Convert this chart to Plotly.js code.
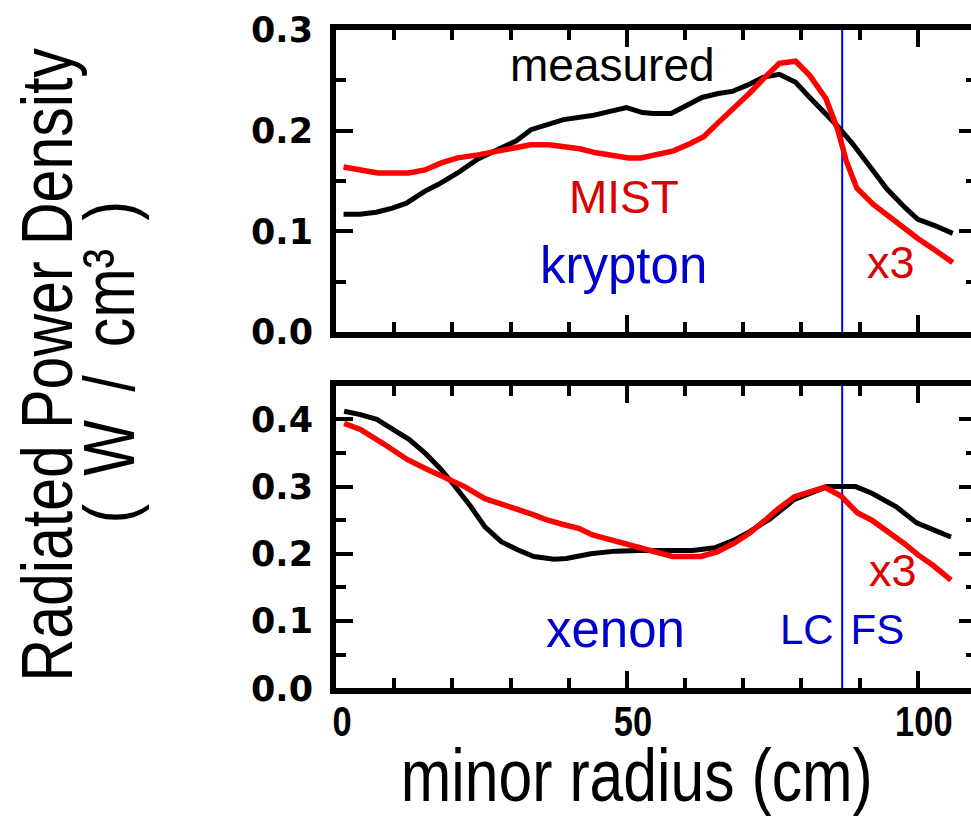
<!DOCTYPE html>
<html>
<head>
<meta charset="utf-8">
<script src="https://cdn.plot.ly/plotly-3.0.1.min.js"></script>
<style>
html, body { margin: 0; padding: 0; overflow: hidden; background: #fff; }
#chart { width: 980px; height: 816px; }
</style>
</head>
<body>
<div id="chart"></div>
<script>
// ---- data ----
// krypton panel
const krMeasX = [1.3, 4.1, 6.9, 9.7, 12.1, 15.3, 17.7, 20.9, 24.4, 27.9, 31.0, 33.5, 36.6, 39.1, 44.0, 47.5, 49.9, 52.7, 54.5, 57.6, 60.1, 62.9, 65.7, 68.1, 70.6, 73.4, 76.2, 79.0, 81.1, 83.5, 86.3, 88.8, 91.9, 94.7, 97.9, 100.0, 102.8, 106.0];
const krMeasY = [0.117, 0.117, 0.119, 0.123, 0.128, 0.140, 0.147, 0.158, 0.172, 0.182, 0.190, 0.201, 0.207, 0.211, 0.215, 0.220, 0.223, 0.218, 0.217, 0.217, 0.224, 0.233, 0.237, 0.239, 0.245, 0.253, 0.256, 0.248, 0.235, 0.221, 0.204, 0.187, 0.163, 0.142, 0.123, 0.112, 0.106, 0.098];
const krMistX = [1.3, 4.1, 7.2, 12.5, 15.3, 18.1, 20.9, 24.4, 27.9, 30.7, 33.5, 36.6, 39.1, 41.9, 44.7, 47.5, 50.3, 52.4, 55.2, 58.0, 60.8, 63.2, 65.7, 68.5, 71.2, 73.7, 76.2, 79.0, 81.4, 84.2, 86.3, 87.7, 89.5, 92.3, 96.5, 100.0, 102.8, 106.0];
const krMistY = [0.164, 0.161, 0.158, 0.158, 0.161, 0.168, 0.173, 0.176, 0.180, 0.183, 0.186, 0.186, 0.184, 0.182, 0.178, 0.176, 0.173, 0.173, 0.176, 0.180, 0.187, 0.194, 0.208, 0.223, 0.238, 0.253, 0.267, 0.269, 0.255, 0.232, 0.200, 0.170, 0.143, 0.127, 0.108, 0.093, 0.082, 0.069];
// xenon panel
const xeMeasX = [1.4, 4.2, 7.0, 9.8, 12.6, 15.4, 17.9, 20.3, 23.1, 25.6, 28.4, 31.2, 34.0, 37.5, 39.6, 43.8, 48.0, 52.2, 57.8, 61.3, 65.1, 68.3, 71.1, 74.6, 78.8, 81.6, 84.4, 89.3, 92.1, 96.3, 99.8, 102.6, 105.7];
const xeMeasY = [0.412, 0.407, 0.400, 0.386, 0.370, 0.349, 0.327, 0.302, 0.271, 0.240, 0.218, 0.206, 0.196, 0.192, 0.193, 0.200, 0.204, 0.205, 0.204, 0.205, 0.209, 0.220, 0.233, 0.252, 0.281, 0.291, 0.300, 0.300, 0.290, 0.270, 0.246, 0.236, 0.225];
const xeMistX = [1.4, 4.2, 8.1, 12.3, 15.8, 20.0, 22.1, 25.6, 28.4, 31.2, 34.0, 36.1, 38.9, 41.7, 44.1, 48.0, 50.8, 55.0, 57.8, 62.7, 65.5, 68.3, 71.1, 73.9, 76.0, 78.8, 81.6, 84.0, 86.8, 89.6, 92.1, 94.9, 97.7, 100.1, 102.6, 105.7];
const xeMistY = [0.394, 0.385, 0.364, 0.340, 0.325, 0.308, 0.300, 0.282, 0.275, 0.266, 0.258, 0.251, 0.244, 0.238, 0.228, 0.219, 0.213, 0.203, 0.196, 0.196, 0.203, 0.215, 0.231, 0.251, 0.267, 0.285, 0.292, 0.299, 0.286, 0.261, 0.250, 0.233, 0.215, 0.198, 0.183, 0.161];
const lcfsX = 87;
const xTickVals = [0, 50, 100];
const xTickText = ["0", "50", "100"];
const krTickVals = [0.0, 0.1, 0.2, 0.3];
const xeTickVals = [0.0, 0.1, 0.2, 0.3, 0.4];

// ---- styling ----
const FRAME = 6;
const NARROW = 0.82; // horizontal squeeze that imitates a narrow sans face
const axCommon = {
  showline: true, linecolor: '#000', linewidth: FRAME, mirror: 'ticks',
  ticks: 'inside', ticklen: 17, tickwidth: 4, tickcolor: '#000',
  showgrid: false, zeroline: false, fixedrange: true,
};
const minorX = { dtick: 10, ticks: 'inside', ticklen: 10, tickwidth: 4, tickcolor: '#000', showgrid: false };
const minorY = { dtick: 0.05, ticks: 'inside', ticklen: 10, tickwidth: 4, tickcolor: '#000', showgrid: false };
const tickFontY = { family: 'DejaVu Sans', size: 35, color: '#000', weight: 'bold' };
const tickFontX = { family: 'Liberation Sans', size: 42, color: '#000', weight: 'bold' };
const sans = 'Liberation Sans';

const traces = [
  { x: krMeasX, y: krMeasY, xaxis: 'x2', yaxis: 'y2', mode: 'lines', line: { color: '#000', width: 5 }, showlegend: false, hoverinfo: 'skip' },
  { x: krMistX, y: krMistY, xaxis: 'x2', yaxis: 'y2', mode: 'lines', line: { color: '#ff0000', width: 5.5 }, showlegend: false, hoverinfo: 'skip' },
  { x: xeMeasX, y: xeMeasY, xaxis: 'x', yaxis: 'y', mode: 'lines', line: { color: '#000', width: 5 }, showlegend: false, hoverinfo: 'skip' },
  { x: xeMistX, y: xeMistY, xaxis: 'x', yaxis: 'y', mode: 'lines', line: { color: '#ff0000', width: 5.5 }, showlegend: false, hoverinfo: 'skip' },
];

const txt = (text, x, y, xref, yref, color, size, extra) => Object.assign({
  text: text, x: x, y: y, xref: xref, yref: yref, showarrow: false,
  xanchor: 'center', yanchor: 'middle',
  font: { family: sans, size: size, color: color }
}, extra || {});

// paper x for a pixel column (plot area starts at 336 px and is 640 px wide)
const px2paperX = (px) => (px - 336) / 640;
const px2paperY = (py) => (816 - py) / 816;

const unitsText = '(\u2009 W\u2009 /\u2009 cm\u00b3\u2009 )';

const layout = {
  width: 980, height: 816,
  margin: { l: 336, r: 4, t: 0, b: 0 },
  paper_bgcolor: '#fff', plot_bgcolor: '#fff',
  showlegend: false,
  xaxis: Object.assign({}, axCommon, {
    anchor: 'y', range: [0, 110], tickvals: xTickVals, ticktext: xTickText,
    tickfont: tickFontX, ticklabelstandoff: -9, ticklabelshift: 6, minor: minorX
  }),
  yaxis: Object.assign({}, axCommon, {
    anchor: 'x', domain: [0.1565, 0.5273], range: [0, 0.45],
    tickvals: xeTickVals, tickformat: '.1f', tickfont: tickFontY, ticklabelstandoff: 10, minor: minorY
  }),
  xaxis2: Object.assign({}, axCommon, {
    anchor: 'y2', range: [0, 110], tickvals: xTickVals, showticklabels: false, minor: minorX
  }),
  yaxis2: Object.assign({}, axCommon, {
    anchor: 'x2', domain: [0.5931, 0.9632], range: [0, 0.3],
    tickvals: krTickVals, tickformat: '.1f', tickfont: tickFontY, ticklabelstandoff: 10, minor: minorY
  }),
  shapes: [
    { type: 'line', xref: 'x2', yref: 'y2 domain', x0: lcfsX, x1: lcfsX, y0: 0, y1: 1, line: { color: '#0000ff', width: 2 }, layer: 'below' },
    { type: 'line', xref: 'x', yref: 'y domain', x0: lcfsX, x1: lcfsX, y0: 0, y1: 1, line: { color: '#0000ff', width: 2 }, layer: 'below' },
  ],
  annotations: [
    txt('measured', 47.5, 0.265, 'x2', 'y2', '#000', 46),
    txt('MIST', 49.5, 0.134, 'x2', 'y2', '#dd0000', 46),
    txt('krypton', 49.4, 0.066, 'x2', 'y2', '#0000cc', 51),
    txt('x3', 95.4, 0.0695, 'x2', 'y2', '#dd0000', 45),
    txt('xenon', 48.0, 0.087, 'x', 'y', '#0000cc', 51),
    txt('x3', 95.8, 0.175, 'x', 'y', '#dd0000', 45),
    txt('LC\u2009\u2009FS', lcfsX, 0.0873, 'x', 'y', '#0000cc', 42),
    txt('minor radius (cm)', px2paperX(637), px2paperY(775), 'paper', 'paper', '#000', 74),
    txt('Radiated Power Density', px2paperX(47), px2paperY(365), 'paper', 'paper', '#000', 72, { textangle: -90 }),
    txt(unitsText, px2paperX(109), px2paperY(362), 'paper', 'paper', '#000', 72, { textangle: -90 }),
  ],
};

const narrowTexts = ['minor radius', 'Radiated Power', '('];

function squeeze(el) {
  const bb = el.getBBox();
  const cx = bb.x + bb.width / 2;
  const prev = el.getAttribute('transform') || '';
  el.setAttribute('transform', prev + ' translate(' + cx + ',0) scale(' + NARROW + ',1) translate(' + (-cx) + ',0)');
}

Plotly.newPlot('chart', traces, layout, { staticPlot: true, displayModeBar: false }).then(() => {
  document.querySelectorAll('#chart g.xtick text').forEach(squeeze);
  document.querySelectorAll('#chart g.annotation text').forEach((el) => {
    const t = el.textContent.trim();
    if (narrowTexts.some((s) => t.startsWith(s))) squeeze(el);
  });
});
</script>
</body>
</html>
